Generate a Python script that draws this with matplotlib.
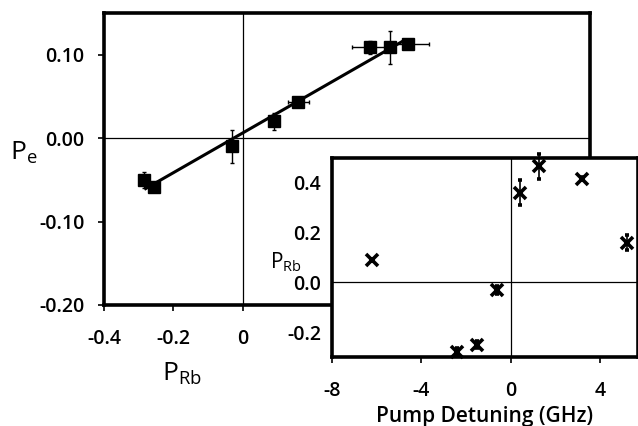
import matplotlib
matplotlib.use("Agg")
import matplotlib.pyplot as plt
import numpy as np

plt.rcParams['font.family'] = ['Open Sans', 'DejaVu Sans']
plt.rcParams['mathtext.default'] = 'regular'
plt.rcParams['axes.unicode_minus'] = False

# main panel: P_e vs P_Rb
p_rb = [-0.285, -0.255, -0.03, 0.09, 0.16, 0.365, 0.425, 0.475]
p_e = [-0.050, -0.058, -0.010, 0.020, 0.043, 0.109, 0.109, 0.113]
p_rb_err = [0.012, 0.010, 0.005, 0.005, 0.030, 0.050, 0.010, 0.060]
p_e_err = [0.010, 0.006, 0.020, 0.010, 0.005, 0.008, 0.020, 0.003]
fit_range = [-0.28, 0.46]

# inset: P_Rb vs pump detuning
detuning = [-6.2, -2.4, -1.5, -0.6, 0.4, 1.25, 3.2, 5.2]
p_rb_det = [0.09, -0.28, -0.25, -0.03, 0.36, 0.467, 0.417, 0.16]
p_rb_det_err = [0.005, 0.015, 0.015, 0.015, 0.05, 0.05, 0.005, 0.03]

W, H = 638, 426
fig = plt.figure(figsize=(W / 100, H / 100), dpi=100)

ax = fig.add_axes([104 / W, 1 - 305 / H, (590 - 104) / W, (305 - 13) / H])
ax.axhline(0, color='black', lw=0.9)
ax.axvline(0, color='black', lw=0.9)
slope, icpt = np.polyfit(p_rb, p_e, 1)
fx = np.array(fit_range)
ax.plot(fx, slope * fx + icpt, color='black', lw=2.2)
ax.errorbar(p_rb, p_e, xerr=p_rb_err, yerr=p_e_err, fmt='s', color='black',
            ms=8.5, elinewidth=1.0, capsize=1.5, zorder=3)
ax.set_xlim(-0.4, 1.0)
ax.set_ylim(-0.2, 0.15)
ax.set_xticks([-0.4, -0.2, 0])
ax.set_xticklabels(['-0.4', '-0.2', '0'])
ax.set_yticks([-0.2, -0.1, 0.0, 0.1])
ax.set_yticklabels(['-0.20', '-0.10', '0.00', '0.10'])
for s in ax.spines.values():
    s.set_linewidth(2.6)
ax.tick_params(axis='x', direction='out', length=4, width=1.2, labelsize=14, pad=13)
ax.tick_params(axis='y', direction='out', length=4, width=1.2, labelsize=14, pad=10)
for lab in ax.get_xticklabels() + ax.get_yticklabels():
    lab.set_fontweight('semibold')
fig.text(24 / W, 1 - 153 / H, '$P_{e}$', fontsize=19, ha='center', va='center')
fig.text(182 / W, 1 - 374 / H, '$P_{Rb}$', fontsize=19, ha='center', va='center')

# inset
ax2 = fig.add_axes([332 / W, 1 - 357 / H, (W - 332) / W, (357 - 158) / H])
ax2.set_facecolor('white')
ax2.axhline(0, color='black', lw=0.9)
ax2.axvline(0, color='black', lw=0.9)
ax2.errorbar(detuning, p_rb_det, yerr=p_rb_det_err, fmt='x', color='black',
             ms=9, mew=2.6, elinewidth=1.2, capsize=1.5, zorder=3, clip_on=False)
ax2.set_xlim(-8, 5.7)
ax2.set_ylim(-0.3, 0.5)
ax2.set_xticks([-8, -4, 0, 4])
ax2.set_yticks([-0.2, 0.0, 0.2, 0.4])
ax2.set_yticklabels(['-0.2', '0.0', '0.2', '0.4'])
for s in ax2.spines.values():
    s.set_linewidth(2.6)
ax2.tick_params(axis='x', direction='out', length=4, width=1.2, labelsize=14, pad=13)
ax2.tick_params(axis='y', direction='out', length=0, labelsize=14, pad=8)
for lab in ax2.get_xticklabels() + ax2.get_yticklabels():
    lab.set_fontweight('semibold')
ax2.set_xlabel('Pump Detuning (GHz)', fontsize=15, fontweight='semibold', labelpad=4)
fig.text(286 / W, 1 - 262 / H, '$P_{Rb}$', fontsize=15, ha='center', va='center')

fig.savefig('out.png', dpi=100)
